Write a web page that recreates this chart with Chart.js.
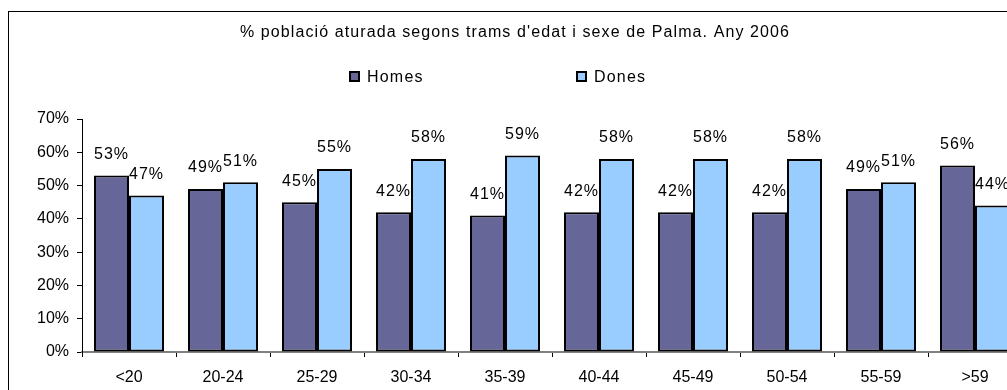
<!DOCTYPE html>
<html>
<head>
<meta charset="utf-8">
<script src="https://cdn.jsdelivr.net/npm/chart.js@4"></script>
<style>
    html, body { margin: 0; padding: 0; background: #fff; overflow: hidden; }
    #frame {
        position: absolute; left: 8px; top: 11px;
        width: 1040px; height: 400px;
        border: 1px solid #000;
    }
    #atursChart { position: absolute; left: 0; top: 0; }
</style>
</head>
<body>
<div id="frame"></div>
<canvas id="atursChart" width="1040" height="400"></canvas>
<script>
// Atur registrat a Palma per trams d'edat i sexe (2006)
const trams = ['<20', '20-24', '25-29', '30-34', '35-39', '40-44', '45-49', '50-54', '55-59', '>59'];
const homes = [53, 49, 45, 42, 41, 42, 42, 42, 49, 56];
const dones = [47, 51, 55, 58, 59, 58, 58, 58, 51, 44];
const yTicks = [0, 10, 20, 30, 40, 50, 60, 70];

const FONT = '"Liberation Sans", Arial, sans-serif';
const COLOR_HOMES = '#666699';
const COLOR_DONES = '#99CCFF';

// Títol i llegenda a mida, com al full de càlcul original
const headerPlugin = {
    id: 'header',
    afterDraw(chart) {
        const ctx = chart.ctx;
        ctx.save();
        ctx.fillStyle = '#000';
        ctx.font = '16px ' + FONT;
        ctx.letterSpacing = '1.1px';
        ctx.textAlign = 'center';
        ctx.textBaseline = 'middle';
        ctx.fillText("% població aturada segons trams d'edat i sexe de Palma. Any 2006", 515, 33);

        const items = [
            { label: 'Homes', color: COLOR_HOMES, x: 350 },
            { label: 'Dones', color: COLOR_DONES, x: 577 }
        ];
        ctx.textAlign = 'left';
        ctx.letterSpacing = '1.2px';
        items.forEach(it => {
            ctx.fillStyle = it.color;
            ctx.fillRect(it.x, 72, 9, 9);
            ctx.strokeStyle = '#000';
            ctx.lineWidth = 2;
            ctx.strokeRect(it.x, 72, 9, 9);
            ctx.fillStyle = '#000';
            ctx.fillText(it.label, it.x + 17, 77.5);
        });
        ctx.restore();
    }
};

// Etiquetes de valor damunt cada barra
const valueLabels = {
    id: 'valueLabels',
    afterDatasetsDraw(chart) {
        const ctx = chart.ctx;
        ctx.save();
        ctx.fillStyle = '#000';
        ctx.font = '16px ' + FONT;
        ctx.letterSpacing = '1px';
        ctx.textAlign = 'center';
        ctx.textBaseline = 'middle';
        chart.data.datasets.forEach((ds, i) => {
            chart.getDatasetMeta(i).data.forEach((bar, j) => {
                ctx.fillText(ds.data[j] + '%', bar.x, bar.y - 21);
            });
        });
        ctx.restore();
    }
};

const ctx = document.getElementById('atursChart').getContext('2d');
new Chart(ctx, {
    type: 'bar',
    data: {
        labels: trams,
        datasets: [{
            label: 'Homes',
            data: homes,
            backgroundColor: COLOR_HOMES,
            borderColor: '#000',
            borderWidth: 2,
            borderSkipped: false
        }, {
            label: 'Dones',
            data: dones,
            backgroundColor: COLOR_DONES,
            borderColor: '#000',
            borderWidth: 2,
            borderSkipped: false
        }]
    },
    options: {
        responsive: false,
        animation: false,
        devicePixelRatio: 1,
        datasets: {
            bar: { categoryPercentage: 0.745, barPercentage: 1 }
        },
        layout: {
            padding: { top: 119, right: 18, bottom: 0, left: 0 }
        },
        plugins: {
            legend: { display: false },
            title: { display: false },
            tooltip: { enabled: false }
        },
        scales: {
            x: {
                afterFit(scale) { scale.height = 48; },
                grid: {
                    drawOnChartArea: false,
                    drawTicks: true,
                    tickLength: 5,
                    color: '#000',
                    offset: true
                },
                border: { display: true, color: '#808080', width: 2 },
                ticks: {
                    color: '#000',
                    padding: 11,
                    font: { family: FONT, size: 16 }
                }
            },
            y: {
                min: 0,
                max: 70,
                afterFit(scale) { scale.width = 82; },
                afterBuildTicks(scale) {
                    scale.ticks = yTicks.map(v => ({ value: v }));
                },
                grid: {
                    drawOnChartArea: false,
                    drawTicks: true,
                    tickLength: 5,
                    color: '#000'
                },
                border: { display: true, color: '#000', width: 1 },
                ticks: {
                    color: '#000',
                    padding: 8,
                    font: { family: FONT, size: 16 },
                    callback: v => v + '%'
                }
            }
        }
    },
    plugins: [headerPlugin, valueLabels]
});
</script>
</body>
</html>
